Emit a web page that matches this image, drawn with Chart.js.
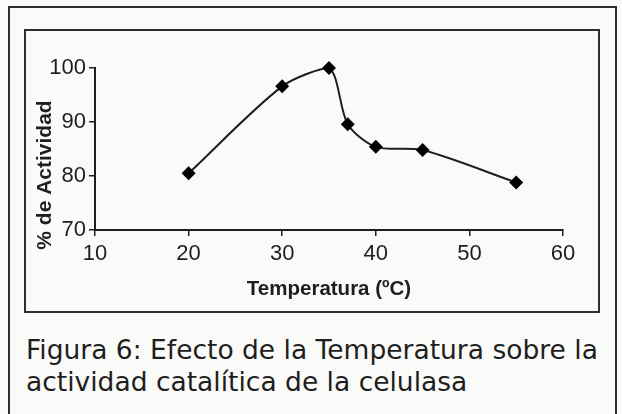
<!DOCTYPE html>
<html>
<head>
<meta charset="utf-8">
<script src="https://cdn.jsdelivr.net/npm/chart.js@4"></script>
<style>
    body { margin: 0; background: #fafaf8; width: 622px; height: 414px; overflow: hidden; position: relative; }
    #outer { position: absolute; left: 8px; top: 6px; width: 605px; height: 430px; border: 2px solid #2e2e2e; }
    #inner { position: absolute; left: 24px; top: 29px; width: 572px; height: 280px; border: 2px solid #2e2e2e; }
    #inner canvas { display: block; }
    #caption { position: absolute; left: 26px; top: 334px; width: 590px; font-family: "DejaVu Sans", sans-serif; font-size: 26.5px; line-height: 32px; color: #1e1e1e; white-space: nowrap; }
</style>
</head>
<body>
<div id="outer"></div>
<div id="inner"><canvas id="tempChart" width="572" height="280"></canvas></div>
<div id="caption">Figura 6: Efecto de la Temperatura sobre la<br>actividad catalítica de la celulasa</div>
<script>
const temperaturas = [20, 30, 35, 37, 40, 45, 55];
const actividad = [80.5, 96.6, 100, 89.6, 85.4, 84.8, 78.8];
const xTicks = [10, 20, 30, 40, 50, 60];
const yTicks = [70, 80, 90, 100];

const ink = '#1e1e1e';

// titulo del eje Y dibujado aparte para poder bajarlo como en el original
const yTitlePlugin = {
    id: 'yTitle',
    afterDraw(chart) {
        const ctx = chart.ctx;
        const area = chart.chartArea;
        ctx.save();
        ctx.translate(area.left - 50, area.bottom - 55);
        ctx.rotate(-Math.PI / 2);
        ctx.font = 'bold 21px "Liberation Sans", Arial, sans-serif';
        ctx.fillStyle = ink;
        ctx.textAlign = 'center';
        ctx.textBaseline = 'middle';
        ctx.fillText('% de Actividad', 0, 0);
        ctx.restore();
    }
};

new Chart(document.getElementById('tempChart'), {
    type: 'line',
    data: {
        datasets: [{
            data: temperaturas.map((t, i) => ({ x: t, y: actividad[i] })),
            borderColor: ink,
            borderWidth: 2,
            backgroundColor: '#000',
            pointStyle: 'rectRot',
            pointRadius: 7,
            pointBorderWidth: 0,
            tension: 0.28,
            clip: false
        }]
    },
    options: {
        responsive: false,
        animation: false,
        events: [],
        layout: { padding: { left: 0, top: 37, right: 35, bottom: 0 } },
        plugins: { legend: { display: false }, tooltip: { enabled: false } },
        scales: {
            x: {
                type: 'linear',
                min: xTicks[0],
                max: xTicks[xTicks.length - 1],
                afterBuildTicks: s => { s.ticks = xTicks.map(v => ({ value: v })); },
                afterFit: s => { s.height = 81; },
                grid: { drawOnChartArea: false, tickLength: 6, color: ink, lineWidth: 1.5 },
                border: { color: ink, width: 2 },
                ticks: { color: ink, padding: 5, maxRotation: 0, font: { family: '"Liberation Sans", Arial, sans-serif', size: 22 } },
                title: {
                    display: true,
                    text: 'Temperatura (ºC)',
                    color: ink,
                    padding: { top: 0, bottom: 9 },
                    font: { family: '"Liberation Sans", Arial, sans-serif', size: 20.5, weight: 'bold' }
                }
            },
            y: {
                min: yTicks[0],
                max: yTicks[yTicks.length - 1],
                afterBuildTicks: s => { s.ticks = yTicks.map(v => ({ value: v })); },
                afterFit: s => { s.width = 69; },
                grid: { drawOnChartArea: false, tickLength: 6, color: ink, lineWidth: 1.5 },
                border: { color: ink, width: 2 },
                ticks: { color: ink, padding: 3, font: { family: '"Liberation Sans", Arial, sans-serif', size: 22 } }
            }
        }
    },
    plugins: [yTitlePlugin]
});
</script>
</body>
</html>
